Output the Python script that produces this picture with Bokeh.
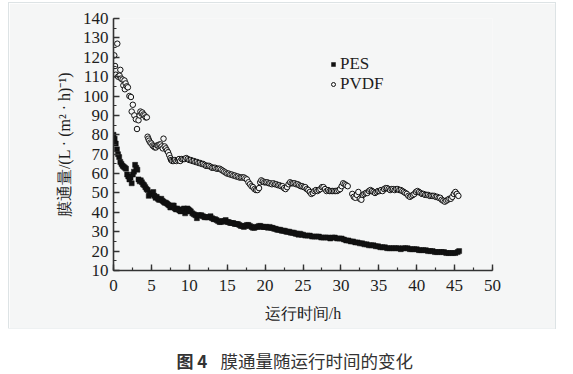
from bokeh.plotting import figure
from bokeh.models import Range1d, SingleIntervalTicker, Legend, LegendItem, Label, Spacer
from bokeh.layouts import column, row
from bokeh.embed import file_html
from bokeh.resources import INLINE

# ---- data ----
pes_t = [0.0, 0.15, 0.3, 0.45, 0.6, 0.75, 0.9, 1.05, 1.2, 1.35, 1.5, 1.65, 1.8, 1.95, 2.1, 2.25, 2.4, 2.55, 2.7, 2.85,
         3.0, 3.15, 3.3, 3.45, 3.6, 3.75, 3.9, 4.05, 4.2, 4.35, 4.5, 4.65, 4.8, 4.95, 5.1, 5.25, 5.4, 5.55, 5.7, 5.85,
         6.0, 6.15, 6.3, 6.45, 6.6, 6.75, 6.9, 7.05, 7.2, 7.35, 7.5, 7.65, 7.8, 7.95, 8.1, 8.25, 8.4, 8.55, 8.7, 8.85,
         9.0, 9.15, 9.3, 9.45, 9.6, 9.75, 9.9, 10.05, 10.2, 10.4, 10.6, 10.8, 11.0, 11.2, 11.4, 11.6, 11.8, 12.0, 12.2,
         12.4, 12.6, 12.8, 13.0, 13.2, 13.4, 13.6, 13.8, 14.0, 14.2, 14.4, 14.6, 14.8, 15.0, 15.2, 15.4, 15.6, 15.8,
         16.0, 16.2, 16.4, 16.6, 16.8, 17.0, 17.2, 17.4, 17.6, 17.8, 18.0, 18.2, 18.4, 18.6, 18.8, 19.0, 19.2, 19.4,
         19.6, 19.8, 20.0, 20.2, 20.4, 20.6, 20.8, 21.0, 21.2, 21.4, 21.6, 21.8, 22.0, 22.2, 22.4, 22.6, 22.8, 23.0,
         23.2, 23.4, 23.6, 23.8, 24.0, 24.2, 24.4, 24.6, 24.8, 25.0, 25.3, 25.6, 25.9, 26.2, 26.5, 26.8, 27.1, 27.4,
         27.7, 28.0, 28.3, 28.6, 28.9, 29.2, 29.5, 29.8, 30.1, 30.4, 30.7, 31.0, 31.3, 31.6, 31.9, 32.2, 32.5, 32.8,
         33.1, 33.4, 33.7, 34.0, 34.3, 34.6, 34.9, 35.2, 35.5, 35.8, 36.1, 36.4, 36.7, 37.0, 37.3, 37.6, 37.9, 38.2,
         38.5, 38.8, 39.1, 39.4, 39.7, 40.0, 40.3, 40.6, 40.9, 41.2, 41.5, 41.8, 42.1, 42.4, 42.7, 43.0, 43.3, 43.6,
         43.9, 44.2, 44.5, 44.8, 45.1, 45.4, 45.6]
pes_v = [80, 78, 75.5, 72.5, 70, 68.5, 66, 65, 64, 63.5, 63, 62.5, 59.5, 58.5, 57, 58, 55, 59.5, 61, 64.5,
         63, 62, 57, 56, 56.5, 55.5, 54.5, 54, 53, 52, 51.5, 48.5, 49.5, 50, 49.5, 50.5, 48.5, 47.5, 48, 47,
         46.5, 46.5, 47, 46, 45.5, 45, 45, 44.5, 44, 43.5, 42.5, 43, 43.5, 43.5, 42, 41.5, 42, 41.5, 41, 40.5,
         41, 41.5, 42, 39.5, 40.5, 42, 41.5, 41, 40.5, 39.5, 39, 38.5, 37, 38.5, 38.5, 38.5, 38, 37.5, 37.5,
         37.5, 37.5, 38, 37, 36.5, 36.5, 36, 35.5, 35, 35, 35.5, 35.5, 36, 35, 35, 34.5, 34.5, 34.5,
         34, 34, 34, 33.5, 33, 33, 32.5, 33, 33.5, 33.5, 33, 32.5, 32, 32, 32.5, 32.5, 33, 33,
         32.5, 32.5, 32.5, 32.5, 32, 32.5, 32, 32, 31.5, 31.5, 31, 31, 31, 30.5, 30.5, 30.5, 30, 30,
         30, 29.5, 29.5, 29.5, 29, 29, 28.5, 29, 28.5, 28.5, 28, 28, 28, 27.5, 27.5, 27.5, 27.5, 27,
         27, 27, 27, 26.5, 27, 27, 26.5, 26.5, 26.5, 26, 25.5, 25.5, 25, 25, 24.5, 24.5, 24, 24,
         23.5, 23.5, 23, 23, 23, 22.5, 22.5, 22, 22, 22, 21.5, 21.5, 21.5, 21.5, 21.5, 21.5, 21, 21.5,
         21.5, 21.5, 21, 21, 21, 21, 20.5, 20.5, 20.5, 20.5, 20, 20, 20, 19.5, 19.5, 19.5, 19.5, 19.5,
         19, 19, 19, 19, 19, 19.5, 20]

pvdf_t = [0.1, 0.2, 0.3, 0.5, 0.6, 0.8, 0.9, 1.0, 1.2, 1.3, 1.45, 1.5, 1.6, 1.75, 1.9, 2.1, 2.3, 2.4, 2.55, 2.75,
          2.95, 3.1, 3.3, 3.45, 3.55, 3.7, 3.8, 3.95, 4.1, 4.25, 4.4, 4.5, 4.6, 4.7, 4.85, 5.0, 5.15, 5.3, 5.45, 5.6,
          5.75, 5.9, 6.05, 6.2, 6.35, 6.5, 6.6, 6.75, 6.9, 7.05, 7.2, 7.35, 7.5, 7.6, 7.75, 7.95, 8.1, 8.3, 8.5, 8.65,
          8.8, 9.0, 9.2, 9.4, 9.6, 9.8, 10.0, 10.2, 10.4, 10.6, 10.8, 11.0, 11.2, 11.4, 11.6, 11.8, 12.0, 12.2, 12.4,
          12.6, 12.8, 13.0, 13.2, 13.4, 13.6, 13.8, 14.0, 14.2, 14.4, 14.6, 14.8, 15.0, 15.2, 15.4, 15.6, 15.8, 16.0,
          16.2, 16.4, 16.6, 16.8, 17.0, 17.2, 17.4, 17.6, 17.8, 18.0, 18.2, 18.4, 18.6, 18.8, 19.0, 19.2, 19.35, 19.5,
          19.7, 19.9, 20.1, 20.3, 20.5, 20.7, 20.9, 21.1, 21.3, 21.5, 21.7, 21.9, 22.1, 22.3, 22.5, 22.7, 22.9, 23.1,
          23.3, 23.5, 23.7, 23.9, 24.1, 24.3, 24.5, 24.7, 24.9, 25.1, 25.3, 25.5, 25.7, 25.9, 26.1, 26.3, 26.5, 26.7,
          26.9, 27.1, 27.3, 27.5, 27.7, 27.9, 28.1, 28.3, 28.5, 28.7, 28.9, 29.1, 29.3, 29.5, 29.7, 29.9, 30.1, 30.3,
          30.5, 30.7, 30.9, 31.5, 31.7, 31.9, 32.1, 32.3, 32.5, 32.7, 32.9, 33.1, 33.3, 33.5, 33.7, 33.9, 34.1, 34.3,
          34.5, 34.7, 34.9, 35.1, 35.3, 35.5, 35.7, 35.9, 36.1, 36.3, 36.5, 36.7, 36.9, 37.1, 37.3, 37.5, 37.7, 37.9,
          38.1, 38.3, 38.5, 38.7, 38.9, 39.1, 39.3, 39.5, 39.7, 39.9, 40.1, 40.3, 40.5, 40.7, 40.9, 41.1, 41.3, 41.5,
          41.7, 41.9, 42.1, 42.3, 42.5, 42.7, 42.9, 43.1, 43.3, 43.5, 43.7, 43.9, 44.1, 44.3, 44.5, 44.7, 44.9, 45.1,
          45.3, 45.5]
pvdf_v = [121, 115.5, 111, 127, 110, 110.5, 113.5, 109, 108.5, 105.5, 108, 103.5, 106.5, 105, 104.5, 100, 99.5, 92, 95.5, 90,
          88, 83, 87.5, 90, 92, 91, 91.5, 90.5, 90, 89, 89, 79, 78, 77, 76, 75.5, 74.5, 74, 73.5, 73.5,
          74.5, 74.5, 75, 75, 74, 73, 78, 74, 73, 72, 71, 69.5, 68, 67, 66.5, 66.5, 67, 66.5, 67, 67.5,
          66.5, 67.5, 67.5, 67.5, 68, 67.5, 67, 67, 66.5, 66.5, 66, 66, 65.5, 65.5, 65, 65, 64.5, 64, 64,
          64, 63.5, 63, 63, 63, 62.5, 62.5, 62.5, 62, 61.5, 61, 60.5, 60, 60, 59.5, 59.5, 59, 59,
          58.5, 58.5, 58, 58, 58, 58, 57.5, 57, 55.5, 54.5, 53.5, 53, 52, 51.5, 51.5, 52.5, 55.5, 56.5,
          56, 55.5, 55.5, 55.5, 55, 55, 54.5, 55, 54.5, 54.5, 54, 54, 53.5, 53.5, 52.5, 52, 53, 54.5,
          55.5, 55, 55, 55, 54.5, 54.5, 54, 53.5, 53.5, 53, 53, 52, 51.5, 50.5, 49.5, 50, 51, 51.5,
          51, 51.5, 52, 53, 53, 52, 51, 51.5, 51, 51, 51, 51, 51, 51, 51.5, 52, 53.5, 55,
          54.5, 54, 53.5, 49.5, 48, 47.5, 49, 50.5, 47, 46.5, 49, 49.5, 50, 50, 51, 51.5, 51, 50.5,
          50, 50.5, 51, 51, 51.5, 51, 52, 52.5, 52.5, 52, 51.5, 52, 52, 51.5, 52, 52, 51.5, 51.5,
          51, 50.5, 50, 49.5, 48.5, 48, 48.5, 49, 49.5, 50.5, 51, 50.5, 50, 49.5, 49.5, 49, 49, 49,
          48.5, 48.5, 48.5, 48.5, 48, 48, 47.5, 47.5, 46.5, 46, 45.5, 46, 46.5, 47, 47, 48, 49.5, 50.5,
          49.5, 48.5]

x_ticks_interval = 5
y_ticks_interval = 10
x_label = "运行时间/h"
y_label = "膜通量/(L · (m² · h)⁻¹)"
series_names = ["PES", "PVDF"]
caption_bold = "图 4"
caption_text = "膜通量随运行时间的变化"

PANEL = "#f5f6f6"
AXIS = "#333333"
TXT = "#1e1e1e"
SERIF = "'Times New Roman', 'Liberation Serif', serif"

p = figure(width=546, height=325, output_backend="svg", toolbar_location=None,
           x_range=Range1d(0, 50), y_range=Range1d(10, 140),
           min_border_left=104, min_border_right=63, min_border_top=15, min_border_bottom=58)
p.background_fill_color = PANEL
p.border_fill_color = PANEL
p.outline_line_color = None
p.xgrid.visible = False
p.ygrid.visible = False
p.styles = {"outline": "1px solid #dde3e5"}

p.xaxis.ticker = SingleIntervalTicker(interval=x_ticks_interval, num_minor_ticks=2)
p.yaxis.ticker = SingleIntervalTicker(interval=y_ticks_interval, num_minor_ticks=2)
for ax in (p.xaxis, p.yaxis):
    ax.axis_line_color = AXIS
    ax.axis_line_width = 1.6
    ax.major_tick_line_color = AXIS
    ax.minor_tick_line_color = AXIS
    ax.major_tick_line_width = 1.4
    ax.minor_tick_line_width = 1.2
    ax.major_tick_in = 6
    ax.major_tick_out = 0
    ax.minor_tick_in = 3
    ax.minor_tick_out = 0
    ax.major_label_text_font = SERIF
    ax.major_label_text_font_size = "17px"
    ax.major_label_text_color = TXT
    ax.axis_label_text_font = SERIF
    ax.axis_label_text_font_size = "16px"
    ax.axis_label_text_font_style = "normal"
    ax.axis_label_text_color = TXT
p.xaxis.major_label_standoff = 9
p.yaxis.major_label_standoff = 5
p.xaxis.axis_label = x_label
p.yaxis.axis_label = y_label
p.xaxis.axis_label_standoff = 11
p.yaxis.axis_label_standoff = 7

r_pes = p.scatter(pes_t, pes_v, marker="square", size=5, fill_color="#111111", line_color="#111111", line_width=0.5)
r_pvdf = p.scatter(pvdf_t, pvdf_v, marker="circle", size=5.5, fill_color=PANEL, line_color="#111111", line_width=1)

legend = Legend(items=[LegendItem(label=series_names[0], renderers=[r_pes]),
                       LegendItem(label=series_names[1], renderers=[r_pvdf])],
                location=(215, 176), orientation="vertical",
                glyph_width=10, glyph_height=20, label_height=20, label_standoff=2,
                spacing=0, padding=0, margin=0,
                border_line_color=None, background_fill_alpha=0,
                label_text_font=SERIF, label_text_font_size="17px", label_text_color=TXT)
p.add_layout(legend, "center")

# caption
c = figure(width=555, height=44, output_backend="svg", toolbar_location=None,
           x_axis_location=None, y_axis_location=None,
           x_range=Range1d(0, 555), y_range=Range1d(0, 44),
           min_border=0, min_border_left=0, min_border_right=0, min_border_top=0, min_border_bottom=0)
c.xgrid.visible = False
c.ygrid.visible = False
c.outline_line_color = None
c.background_fill_color = "white"
c.border_fill_color = "white"
c.add_layout(Label(x=176, y=12, text=caption_bold, text_font="Noto Sans CJK SC", text_font_size="17px",
                   text_font_style="bold", text_color="#333333", text_baseline="middle"))
c.add_layout(Label(x=220, y=12, text=caption_text, text_font="Noto Sans CJK SC", text_font_size="17.5px",
                   text_color="#333333", text_baseline="middle"))

layout = column(Spacer(width=555, height=3), row(Spacer(width=9, height=325), p), c)
open("out.html", "w").write(file_html(layout, INLINE))
